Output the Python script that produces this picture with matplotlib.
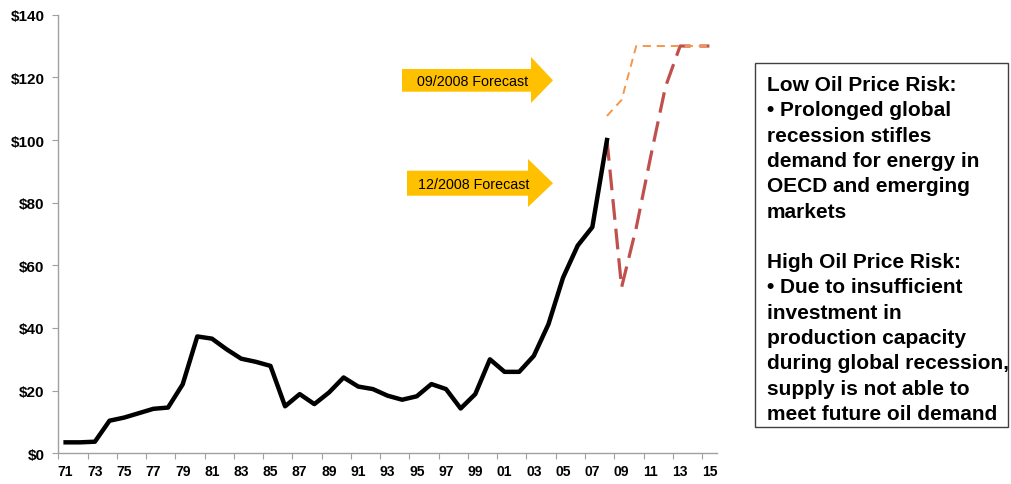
import matplotlib
matplotlib.use("Agg")
import matplotlib.pyplot as plt
from matplotlib.patches import Polygon, Rectangle

plt.rcParams['font.family'] = ['Liberation Sans', 'DejaVu Sans']

# categories 1971..2015, labelled by two-digit year
years = [f"{y % 100:02d}" for y in range(1971, 2016)]

# annual oil price, 1971..2008 ($/bbl)
price = [3.5, 3.5, 3.7, 10.4, 11.4, 12.8, 14.2, 14.6, 22.0, 37.3,
         36.6, 33.2, 30.2, 29.2, 27.9, 15.0, 18.9, 15.7, 19.4, 24.2,
         21.3, 20.5, 18.4, 17.1, 18.2, 22.1, 20.5, 14.3, 18.9, 30.0,
         26.0, 26.0, 31.1, 41.2, 56.1, 66.3, 72.2, 100.0]

# forecasts 2008..2015
fc_dec = [100.0, 53.0, 72.0, 95.0, 117.0, 130.0, 130.0, 130.0]
fc_sep = [107.7, 112.8, 130.0, 130.0, 130.0, 130.0, 130.0, 130.0]

W, H = 1012, 485
fig = plt.figure(figsize=(W / 100, H / 100), dpi=100)
ax = fig.add_axes([58.3 / W, 1 - 454.3 / H, (716.7 - 58.3) / W, (454.3 - 15.7) / H])

x_hist = list(range(len(price)))
x_fc = list(range(len(price) - 1, len(years)))

ax.plot(x_hist, price, color='black', lw=3.2, solid_joinstyle='round', zorder=3)
ax.plot(x_fc, fc_dec, color='#C0504D', lw=2.3, dashes=(6.5, 2.8), zorder=2)
ax.plot(x_fc, fc_sep, color='#F79646', lw=1.4, dashes=(4.2, 3.0), zorder=2)

ax.set_xlim(-0.5, len(years) - 0.5)
ax.set_ylim(0, 140)
ax.set_yticks(range(0, 141, 20))
ax.set_yticklabels([f"${v}" for v in range(0, 141, 20)], fontsize=11, fontweight='bold')

# tick marks between categories, labels on centres
ax.set_xticks([i - 0.5 for i in range(0, len(years) + 1, 2)])
ax.set_xticklabels([])
ax.set_xticks(range(0, len(years), 2), minor=True)
ax.set_xticklabels(years[::2], minor=True, fontsize=10, fontweight='bold')
ax.tick_params(axis='x', which='major', length=4, color='#A0A0A0')
ax.tick_params(axis='x', which='minor', length=0, pad=8)
ax.tick_params(axis='y', length=4, color='#A0A0A0', pad=6)

for s in ['top', 'right']:
    ax.spines[s].set_visible(False)
for s in ['left', 'bottom']:
    ax.spines[s].set_color('#A0A0A0')
    ax.spines[s].set_linewidth(1.0)


def px(x, y):
    return (x / W, 1 - y / H)


def arrow(x0, y0, y1, xh, yh0, yh1, xt, label):
    ym = (y0 + y1) / 2
    pts = [px(x0, y0), px(xh, y0), px(xh, yh0), px(xt, ym),
           px(xh, yh1), px(xh, y1), px(x0, y1)]
    fig.patches.append(Polygon(pts, closed=True, transform=fig.transFigure,
                               facecolor='#FFC000', edgecolor='none'))
    cx, cy = px((x0 + xh) / 2 + 6, ym + 1)
    fig.text(cx, cy, label, ha='center', va='center', fontsize=10.3, color='black')


arrow(402, 70, 92.7, 531, 58, 104, 553, "09/2008 Forecast")
arrow(407, 171.7, 196.7, 528, 160, 208, 553, "12/2008 Forecast")

# text box
bx0, by0 = px(755, 428)
bx1, by1 = px(1008, 64)
fig.patches.append(Rectangle((bx0, by0), bx1 - bx0, by1 - by0, transform=fig.transFigure,
                             facecolor='white', edgecolor='#404040', lw=1.0))

risk_text = ("Low Oil Price Risk:\n"
             "\u2022 Prolonged global\n"
             "recession stifles\n"
             "demand for energy in\n"
             "OECD and emerging\n"
             "markets\n"
             "\n"
             "High Oil Price Risk:\n"
             "\u2022 Due to insufficient\n"
             "investment in\n"
             "production capacity\n"
             "during global recession,\n"
             "supply is not able to\n"
             "meet future oil demand")
tx, ty = px(767, 250)
fig.text(tx, ty, risk_text, ha='left', va='center', fontsize=15, fontweight='bold',
         linespacing=1.42)

fig.savefig("out.png", dpi=100)
